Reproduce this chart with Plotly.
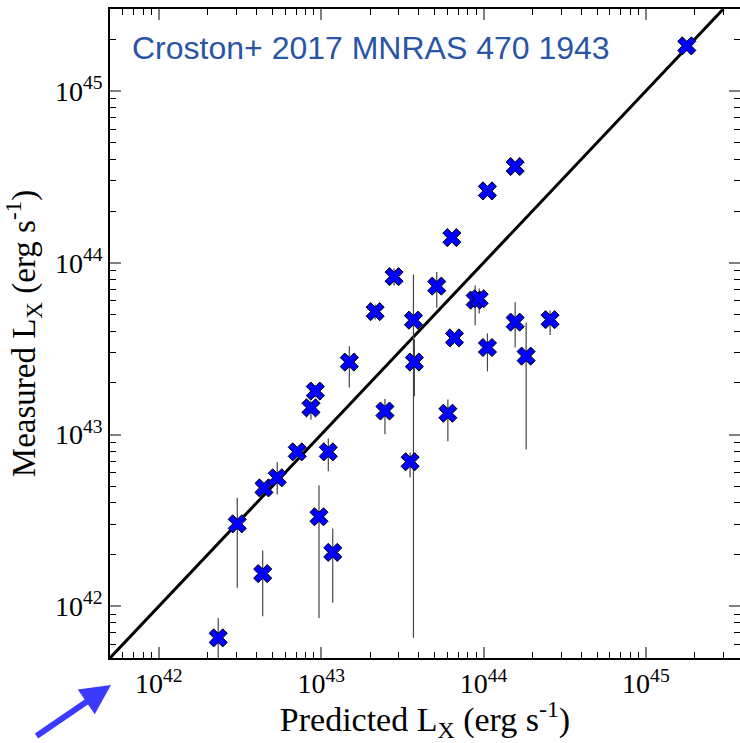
import numpy as np
import plotly.graph_objects as go

# Predicted vs measured X-ray luminosity (erg/s)
predicted = [2.32e42, 3.04e42, 4.36e42, 4.44e42, 5.36e42, 7.12e42, 8.65e42, 9.2e42,
             9.69e42, 1.106e43, 1.178e43, 1.49e43, 2.15e43, 2.47e43, 2.81e43, 3.53e43,
             3.70e43, 3.75e43, 5.15e43, 6.03e43, 6.38e43, 6.62e43, 8.88e43, 9.40e43,
             1.057e44, 1.057e44, 1.566e44, 1.566e44, 1.83e44, 2.57e44, 1.787e45]
measured = [6.55e41, 3.02e42, 1.55e42, 4.89e42, 5.6e42, 7.93e42, 1.43e43, 1.79e43,
            3.32e42, 7.93e42, 2.06e42, 2.64e43, 5.19e43, 1.37e43, 8.3e43, 6.94e42,
            4.63e43, 2.64e43, 7.31e43, 1.33e43, 1.40e44, 3.65e43, 6.06e43, 6.17e43,
            2.62e44, 3.21e43, 3.63e44, 4.51e43, 2.86e43, 4.66e43, 1.83e45]
measured_hi = [8.56e41, 4.28e42, 2.11e42, 4.89e42, 6.9e42, 7.93e42, 1.56e43, 1.94e43,
               5.07e42, 9.48e42, 2.84e42, 3.26e43, 5.72e43, 1.61e43, 9.27e43, 7.86e42,
               8.55e43, 3.58e43, 8.82e43, 1.60e43, 1.40e44, 3.65e43, 7.38e43, 7.09e43,
               2.62e44, 3.88e43, 3.63e44, 5.88e43, 4.49e43, 5.28e43, 1.83e45]
measured_lo = [4.28e41, 1.28e42, 8.75e41, 4.89e42, 4.47e42, 7.93e42, 1.22e43, 1.64e43,
               8.56e41, 6.11e42, 1.047e42, 1.88e43, 4.68e43, 1.004e43, 7.38e43, 5.62e42,
               6.57e41, 1.67e43, 5.47e43, 9.14e42, 1.40e44, 3.65e43, 4.32e43, 5.07e43,
               2.62e44, 2.33e43, 3.63e44, 3.21e43, 8.18e42, 3.79e43, 1.83e45]

# Axis limits, 1:1 line and tick positions
x_limits = [5e41, 3.8e45]
y_limits = [5e41, 3e45]
one_to_one = [5e41, 3e45]
major_ticks = [1e42, 1e43, 1e44, 1e45]
major_text = ["10<sup>42</sup>", "10<sup>43</sup>", "10<sup>44</sup>", "10<sup>45</sup>"]
minor_ticks = [k * 10.0 ** e for e in range(41, 46) for k in range(2, 10)]

meas = np.array(measured)
err_plus = np.array(measured_hi) - meas
err_minus = meas - np.array(measured_lo)

serif = "Liberation Serif, Times New Roman, serif"

fig = go.Figure()

fig.add_trace(go.Scatter(
    x=one_to_one, y=one_to_one, mode="lines",
    line=dict(color="black", width=3), hoverinfo="skip", showlegend=False))

fig.add_trace(go.Scatter(
    x=predicted, y=measured, mode="markers",
    error_y=dict(type="data", symmetric=False, array=err_plus, arrayminus=err_minus,
                 color="#454545", thickness=1.2, width=0),
    marker=dict(symbol="x", size=16, color="#0000ff",
                line=dict(color="black", width=1)),
    showlegend=False))

# carrier for the right-hand tick axis
fig.add_trace(go.Scatter(
    x=[1e42], y=[1e42], yaxis="y2", mode="markers",
    marker=dict(opacity=0), hoverinfo="skip", showlegend=False))

minor_style = dict(ticks="inside", ticklen=6, tickcolor="black", tickwidth=1,
                   tickmode="array", tickvals=minor_ticks, showgrid=False)

fig.update_layout(
    width=740, height=743,
    margin=dict(l=110, r=0, t=9, b=85),
    paper_bgcolor="white", plot_bgcolor="white",
    xaxis=dict(
        type="log", range=[np.log10(x_limits[0]), np.log10(x_limits[1])],
        showline=True, linecolor="black", linewidth=1.5, mirror="ticks",
        ticks="inside", ticklen=11, tickwidth=1.5, tickcolor="#808080",
        tickmode="array", tickvals=major_ticks, ticktext=major_text,
        minor=minor_style, showgrid=False, zeroline=False,
        tickfont=dict(family=serif, size=28, color="black"),
        title=dict(text="Predicted L<sub>X</sub> (erg s<sup>-1</sup>)",
                   font=dict(family=serif, size=34, color="black"), standoff=6),
    ),
    yaxis=dict(
        type="log", range=[np.log10(y_limits[0]), np.log10(y_limits[1])],
        showline=True, linecolor="black", linewidth=1.5,
        ticks="inside", ticklen=11, tickwidth=1.5, tickcolor="#808080",
        tickmode="array", tickvals=major_ticks, ticktext=major_text,
        minor=minor_style, showgrid=False, zeroline=False,
        tickfont=dict(family=serif, size=28, color="black"),
        title=dict(text="Measured L<sub>X</sub> (erg s<sup>-1</sup>)",
                   font=dict(family=serif, size=33, color="black"), standoff=10),
    ),
    yaxis2=dict(
        type="log", overlaying="y", side="right", matches="y",
        showline=False, showticklabels=False,
        ticks="inside", ticklen=11, tickwidth=1.5, tickcolor="#808080",
        tickmode="array", tickvals=major_ticks,
        minor=minor_style, showgrid=False, zeroline=False,
    ),
    annotations=[
        dict(text="Croston+ 2017 MNRAS 470 1943", xref="paper", yref="paper",
             x=0.032, y=0.94, xanchor="left", yanchor="middle", showarrow=False,
             font=dict(family="Liberation Sans, Arial, sans-serif", size=32,
                       color="#2a54a6")),
        dict(text="", xref="paper", yref="paper", x=0.0016, y=-0.0416,
             showarrow=True, ax=-76, ay=52, arrowhead=2, arrowsize=1.0,
             arrowwidth=6, arrowcolor="#3b3bff", standoff=0),
    ],
)

fig.write_html("out.html")
